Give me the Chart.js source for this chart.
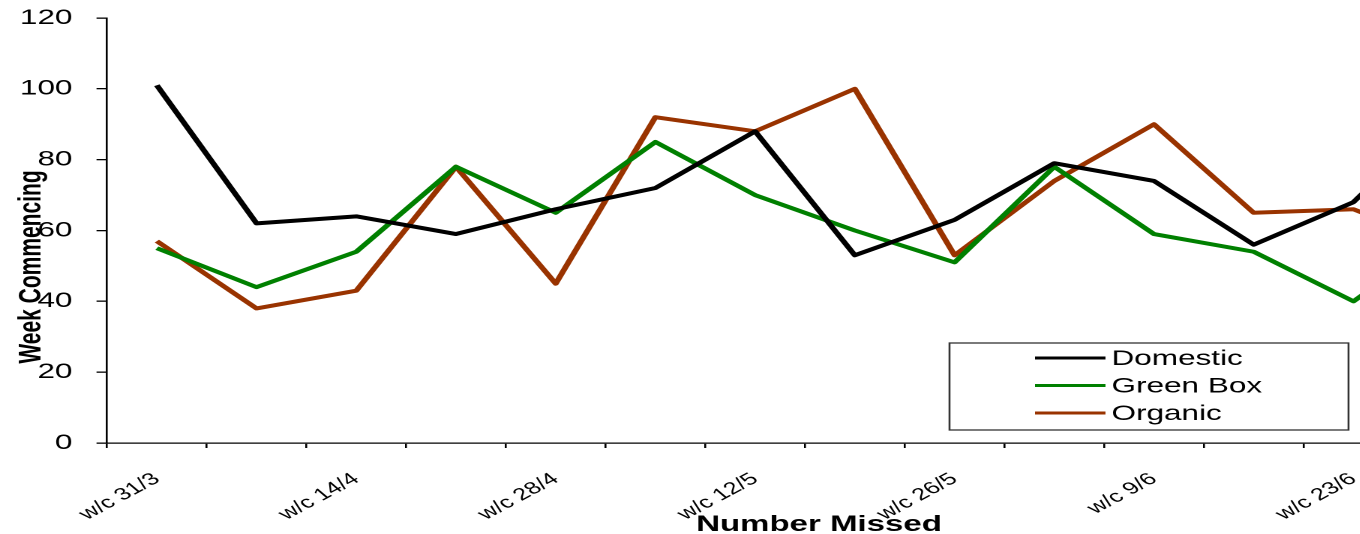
<!DOCTYPE html>
<html>
<head>
<meta charset="utf-8">
<script src="https://cdn.jsdelivr.net/npm/chart.js@4"></script>
<style>
  html, body { margin: 0; padding: 0; background: #fff; overflow: hidden; }
  #wrap { width: 1010px; height: 534px; transform: scaleX(1.5); transform-origin: 0 0; }
</style>
</head>
<body>
<div id="wrap"><canvas id="chart" width="1010" height="534"></canvas></div>
<script>
// data (last week is mostly cut off on the right)
const weeks = ['w/c 31/3', 'w/c 7/4', 'w/c 14/4', 'w/c 21/4', 'w/c 28/4', 'w/c 5/5', 'w/c 12/5',
               'w/c 19/5', 'w/c 26/5', 'w/c 2/6', 'w/c 9/6', 'w/c 16/6', 'w/c 23/6', 'w/c 30/6'];
const domestic = [101, 62, 64, 59, 66, 72, 88, 53, 63, 79, 74, 56, 68, 95];
const greenBox = [55, 44, 54, 78, 65, 85, 70, 60, 51, 78, 59, 54, 40, 60];
const organic  = [57, 38, 43, 78, 45, 92, 88, 100, 53, 74, 90, 65, 66, 55];
const yTicks = [0, 20, 40, 60, 80, 100, 120];

const FONT = "'Liberation Sans', Arial, sans-serif";

// axis titles + boxed legend, drawn over the plot like the Excel original
const overlay = {
    id: 'overlay',
    afterDraw(chart) {
        const ctx = chart.ctx;
        ctx.save();
        ctx.fillStyle = '#000';
        ctx.font = 'bold 21px ' + FONT;
        // y title (sits over the tick labels)
        ctx.save();
        ctx.translate(27, 267);
        ctx.rotate(-Math.PI / 2);
        ctx.textAlign = 'center';
        ctx.textBaseline = 'alphabetic';
        ctx.fillText('Week Commencing', 0, 0);
        ctx.restore();
        // x title
        ctx.font = 'bold 22px ' + FONT;
        ctx.textAlign = 'center';
        ctx.textBaseline = 'alphabetic';
        ctx.fillText('Number Missed', 546, 531);

        // legend box
        const bx = 633, by = 343, bw = 266, bh = 87;
        ctx.fillStyle = '#fff';
        ctx.fillRect(bx, by, bw, bh);
        ctx.strokeStyle = '#333';
        ctx.lineWidth = 1.3;
        ctx.strokeRect(bx, by, bw, bh);
        ctx.font = '21px ' + FONT;
        ctx.textAlign = 'left';
        ctx.textBaseline = 'middle';
        chart.data.datasets.forEach((ds, i) => {
            const y = by + 15 + i * 27.5;
            ctx.strokeStyle = ds.borderColor;
            ctx.lineWidth = 3;
            ctx.beginPath();
            ctx.moveTo(690, y);
            ctx.lineTo(737, y);
            ctx.stroke();
            ctx.fillStyle = '#000';
            ctx.fillText(ds.label, 741, y + 1);
        });
        ctx.restore();
    }
};

new Chart(document.getElementById('chart'), {
    type: 'line',
    data: {
        labels: weeks,
        datasets: [
            { label: 'Domestic', data: domestic, borderColor: '#000000', backgroundColor: '#000000' },
            { label: 'Green Box', data: greenBox, borderColor: '#008000', backgroundColor: '#008000' },
            { label: 'Organic', data: organic, borderColor: '#993300', backgroundColor: '#993300' }
        ]
    },
    options: {
        responsive: false,
        animation: false,
        devicePixelRatio: 2,
        layout: { padding: { top: 18, right: 8, bottom: 0, left: 0 } },
        elements: {
            line: { borderWidth: 4, tension: 0, borderJoinStyle: 'round' },
            point: { radius: 0, hoverRadius: 0 }
        },
        plugins: { legend: { display: false }, tooltip: { enabled: false } },
        scales: {
            x: {
                type: 'category',
                offset: true,
                grid: { offset: true, drawOnChartArea: false, drawTicks: true, tickLength: 5, color: '#000', lineWidth: 1.3 },
                border: { display: true, color: '#000', width: 1.3 },
                ticks: {
                    autoSkip: false,
                    minRotation: 38.6,
                    maxRotation: 38.6,
                    padding: 21,
                    color: '#000',
                    font: { family: FONT, size: 17 },
                    callback: (v, i) => (i % 2 === 0 ? weeks[i] : '')
                },
                afterFit: (scale) => { scale.height = 91; scale.paddingLeft = 0; scale.paddingRight = 0; }
            },
            y: {
                min: 0,
                max: 120,
                afterBuildTicks: (scale) => { scale.ticks = yTicks.map(v => ({ value: v })); },
                grid: { drawOnChartArea: false, drawTicks: true, tickLength: 7, color: '#000', lineWidth: 1.3 },
                border: { display: true, color: '#000', width: 1.3 },
                ticks: {
                    padding: 16,
                    color: '#000',
                    font: { family: FONT, size: 21 }
                },
                afterFit: (scale) => { scale.width = 71.33; scale.paddingTop = 0; scale.paddingBottom = 0; }
            }
        }
    },
    plugins: [overlay]
});
</script>
</body>
</html>
